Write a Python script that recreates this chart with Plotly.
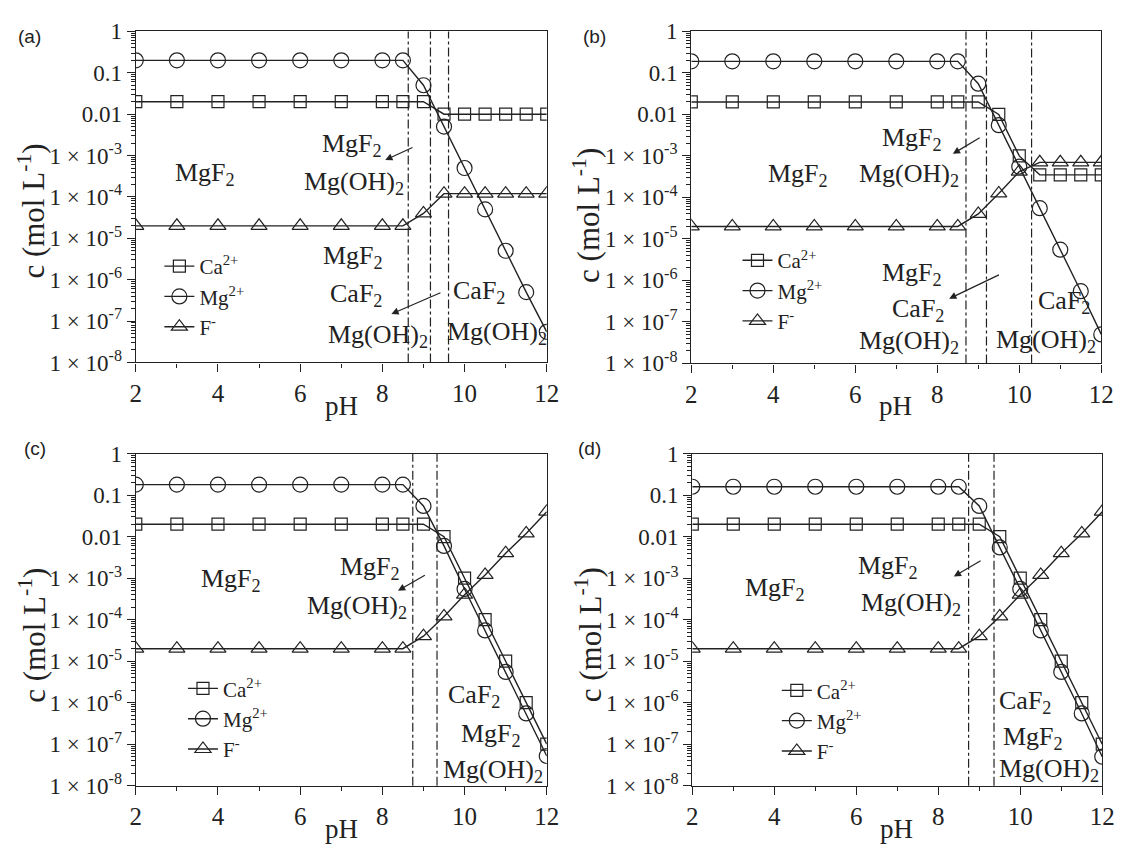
import plotly.graph_objects as go

# pH grid shared by all four panels
ph = [2, 3, 4, 5, 6, 7, 8, 8.5, 9, 9.5, 10, 10.5, 11, 11.5, 12]

# (a)
ca_a = [0.02, 0.02, 0.02, 0.02, 0.02, 0.02, 0.02, 0.02, 0.02, 0.01, 0.01, 0.01, 0.01, 0.01, 0.01]
mg_a = [0.2, 0.2, 0.2, 0.2, 0.2, 0.2, 0.2, 0.2, 0.05, 0.005, 5e-4, 5e-5, 5e-6, 5e-7, 5.5e-8]
f_a = [2e-5, 2e-5, 2e-5, 2e-5, 2e-5, 2e-5, 2e-5, 2e-5, 4e-5, 1.2e-4, 1.2e-4, 1.2e-4, 1.2e-4, 1.2e-4, 1.2e-4]

# (b)
ca_b = [0.02, 0.02, 0.02, 0.02, 0.02, 0.02, 0.02, 0.02, 0.02, 0.01, 1e-3, 3.5e-4, 3.5e-4, 3.5e-4, 3.5e-4]
mg_b = [0.19, 0.19, 0.19, 0.19, 0.19, 0.19, 0.19, 0.19, 0.055, 0.0055, 5.5e-4, 5.5e-5, 5.5e-6, 5.5e-7, 5e-8]
f_b = [2e-5, 2e-5, 2e-5, 2e-5, 2e-5, 2e-5, 2e-5, 2e-5, 4e-5, 1.25e-4, 4.2e-4, 7e-4, 7e-4, 7e-4, 7e-4]

# (c)
ca_c = [0.02, 0.02, 0.02, 0.02, 0.02, 0.02, 0.02, 0.02, 0.02, 0.01, 1e-3, 1e-4, 1e-5, 1e-6, 1e-7]
mg_c = [0.18, 0.18, 0.18, 0.18, 0.18, 0.18, 0.18, 0.18, 0.055, 0.006, 5.5e-4, 5.5e-5, 5.5e-6, 5.5e-7, 5.2e-8]
f_c = [2e-5, 2e-5, 2e-5, 2e-5, 2e-5, 2e-5, 2e-5, 2e-5, 4e-5, 1.2e-4, 4e-4, 1.2e-3, 4e-3, 0.012, 0.04]

# (d)
ca_d = [0.02, 0.02, 0.02, 0.02, 0.02, 0.02, 0.02, 0.02, 0.02, 0.01, 1e-3, 1e-4, 1e-5, 1e-6, 1e-7]
mg_d = [0.16, 0.16, 0.16, 0.16, 0.16, 0.16, 0.16, 0.16, 0.055, 0.0055, 5.5e-4, 5.5e-5, 5.5e-6, 5.5e-7, 5e-8]
f_d = [2e-5, 2e-5, 2e-5, 2e-5, 2e-5, 2e-5, 2e-5, 2e-5, 4e-5, 1.2e-4, 4e-4, 1.2e-3, 4e-3, 0.012, 0.04]

# phase boundaries (pH) for each panel
bounds_a = [8.63, 9.17, 9.61]
bounds_b = [8.70, 9.20, 10.30]
bounds_c = [8.74, 9.33]
bounds_d = [8.74, 9.36]

series_names = ["Ca<sup>2+</sup>", "Mg<sup>2+</sup>", "F<sup>-</sup>"]
series_symbols = ["square-open", "circle-open", "triangle-up-open"]
series_sizes = [12, 15, 14]

y_tickvals = [1, 0.1, 0.01, 1e-3, 1e-4, 1e-5, 1e-6, 1e-7, 1e-8]
y_ticktext = ["1", "0.1", "0.01"] + ["1 \u00d7 10<sup>-%d</sup>" % k for k in range(3, 9)]
x_tickvals = [2, 4, 6, 8, 10, 12]

# region labels: (text, pH, log10 c)
labels_a = [
    ("MgF<sub>2</sub>", 3.68, -3.45),
    ("MgF<sub>2</sub>", 7.27, -2.75),
    ("Mg(OH)<sub>2</sub>", 7.30, -3.66),
    ("MgF<sub>2</sub>", 7.28, -5.45),
    ("CaF<sub>2</sub>", 7.37, -6.38),
    ("Mg(OH)<sub>2</sub>", 7.90, -7.35),
    ("CaF<sub>2</sub>", 10.35, -6.29),
    ("Mg(OH)<sub>2</sub>", 10.79, -7.28),
]
labels_b = [
    ("MgF<sub>2</sub>", 4.61, -3.47),
    ("MgF<sub>2</sub>", 7.39, -2.60),
    ("Mg(OH)<sub>2</sub>", 7.32, -3.45),
    ("MgF<sub>2</sub>", 7.39, -5.85),
    ("CaF<sub>2</sub>", 7.52, -6.71),
    ("Mg(OH)<sub>2</sub>", 7.32, -7.49),
    ("CaF<sub>2</sub>", 11.08, -6.52),
    ("Mg(OH)<sub>2</sub>", 10.65, -7.45),
]
labels_c = [
    ("MgF<sub>2</sub>", 4.31, -3.04),
    ("MgF<sub>2</sub>", 7.70, -2.76),
    ("Mg(OH)<sub>2</sub>", 7.38, -3.69),
    ("CaF<sub>2</sub>", 10.23, -5.85),
    ("MgF<sub>2</sub>", 10.64, -6.79),
    ("Mg(OH)<sub>2</sub>", 10.70, -7.65),
]
labels_d = [
    ("MgF<sub>2</sub>", 4.01, -3.25),
    ("MgF<sub>2</sub>", 6.77, -2.74),
    ("Mg(OH)<sub>2</sub>", 7.34, -3.61),
    ("CaF<sub>2</sub>", 10.12, -5.99),
    ("MgF<sub>2</sub>", 10.31, -6.85),
    ("Mg(OH)<sub>2</sub>", 10.70, -7.62),
]

# pointer arrows: (tail pH, tail log c, head pH, head log c)
arrows_a = [(8.77, -2.79, 8.07, -3.11), (9.45, -6.30, 8.22, -6.83)]
arrows_b = [(9.07, -2.54, 8.38, -2.95), (9.54, -5.85, 8.29, -6.44)]
arrows_c = [(9.07, -2.91, 8.38, -3.30)]
arrows_d = [(9.07, -2.56, 8.38, -2.96)]

W, H = 1130, 855
INK = "#222222"
SERIF = "Liberation Serif, Times New Roman, serif"


def px(x):
    return x / W


def py(y):
    return 1 - y / H


panels = [
    dict(tag="(a)", series=[ca_a, mg_a, f_a], bounds=bounds_a, labels=labels_a, arrows=arrows_a,
         xdom=[132, 550], ydom=[361, 20], tagpos=(24, 25), ytitle=(25, 205), xtitle=(341, 406),
         legend=(156, 241)),
    dict(tag="(b)", series=[ca_b, mg_b, f_b], bounds=bounds_b, labels=labels_b, arrows=arrows_b,
         xdom=[697, 1114], ydom=[362, 20], tagpos=(599, 25), ytitle=(591, 210), xtitle=(905, 406),
         legend=(744, 235)),
    dict(tag="(c)", series=[ca_c, mg_c, f_c], bounds=bounds_c, labels=labels_c, arrows=arrows_c,
         xdom=[132, 550], ydom=[797, 455], tagpos=(30, 450), ytitle=(27, 642), xtitle=(341, 842),
         legend=(180, 676)),
    dict(tag="(d)", series=[ca_d, mg_d, f_d], bounds=bounds_d, labels=labels_d, arrows=arrows_d,
         xdom=[698, 1115], ydom=[797, 455], tagpos=(593, 450), ytitle=(592, 642), xtitle=(906, 842),
         legend=(784, 678)),
]

fig = go.Figure()
layout = dict(
    width=W, height=H,
    margin=dict(l=0, r=0, t=0, b=0),
    paper_bgcolor="white", plot_bgcolor="white",
    showlegend=True,
)
annotations = []
shapes = []

for i, p in enumerate(panels):
    n = "" if i == 0 else str(i + 1)
    xa, ya = "x" + n, "y" + n
    leg = "legend" + n

    for vals, name, sym, size in zip(p["series"], series_names, series_symbols, series_sizes):
        fig.add_trace(go.Scatter(
            x=ph, y=vals, mode="lines+markers", name=name,
            xaxis=xa, yaxis=ya, legend=leg,
            line=dict(color=INK, width=1.4),
            marker=dict(symbol=sym, size=size, color=INK, line=dict(width=1.2, color=INK)),
        ))

    layout["xaxis" + n] = dict(
        domain=[px(p["xdom"][0]), px(p["xdom"][1])], anchor=ya,
        range=[2, 12], tickvals=x_tickvals,
        ticks="outside", ticklen=8, tickwidth=1.2, tickcolor=INK,
        minor=dict(ticks="outside", ticklen=4, tickwidth=1.2, tickcolor=INK, dtick=1, tick0=0),
        showline=True, linewidth=1.4, linecolor=INK, mirror=True,
        showgrid=False, zeroline=False,
        tickfont=dict(family=SERIF, size=25, color=INK),
    )
    layout["yaxis" + n] = dict(
        domain=[py(p["ydom"][0]), py(p["ydom"][1])], anchor=xa,
        type="log", range=[-8, 0],
        tickvals=y_tickvals, ticktext=y_ticktext,
        ticks="outside", ticklen=8, tickwidth=1.2, tickcolor=INK,
        minor=dict(ticks="outside", ticklen=4, tickwidth=1, tickcolor=INK, dtick="D1"),
        showline=True, linewidth=1.4, linecolor=INK, mirror=True,
        showgrid=False, zeroline=False,
        tickfont=dict(family=SERIF, size=23, color=INK),
    )
    layout[leg] = dict(
        x=px(p["legend"][0]), y=py(p["legend"][1]), xanchor="left", yanchor="top",
        bgcolor="rgba(0,0,0,0)", borderwidth=0,
        font=dict(family=SERIF, size=21, color=INK),
        itemwidth=30, tracegroupgap=0,
    )

    for b in p["bounds"]:
        shapes.append(dict(type="line", xref=xa, yref=ya + " domain", x0=b, x1=b, y0=0, y1=1,
                           line=dict(color=INK, width=1.2, dash="dashdot")))

    for text, xv, yv in p["labels"]:
        annotations.append(dict(text=text, x=xv, y=yv, xref=xa, yref=ya, showarrow=False,
                                xanchor="center", yanchor="middle",
                                font=dict(family=SERIF, size=26, color=INK)))

    for tx, ty, hx, hy in p["arrows"]:
        annotations.append(dict(text="", x=hx, y=hy, ax=tx, ay=ty, xref=xa, yref=ya,
                                axref=xa, ayref=ya, showarrow=True, arrowhead=2,
                                arrowsize=1.2, arrowwidth=1.2, arrowcolor=INK))

    annotations.append(dict(text=p["tag"], x=px(p["tagpos"][0]), y=py(p["tagpos"][1]),
                            xref="paper", yref="paper", showarrow=False,
                            xanchor="center", yanchor="middle",
                            font=dict(family="Liberation Sans, Arial, sans-serif", size=19, color=INK)))
    annotations.append(dict(text="c (mol L<sup>-1</sup>)", x=px(p["ytitle"][0]), y=py(p["ytitle"][1]),
                            xref="paper", yref="paper", showarrow=False, textangle=-90,
                            xanchor="center", yanchor="middle",
                            font=dict(family=SERIF, size=31, color=INK)))
    annotations.append(dict(text="pH", x=px(p["xtitle"][0]), y=py(p["xtitle"][1]),
                            xref="paper", yref="paper", showarrow=False,
                            xanchor="center", yanchor="middle",
                            font=dict(family=SERIF, size=27, color=INK)))

layout["annotations"] = annotations
layout["shapes"] = shapes
fig.update_layout(**layout)

fig.write_html("out.html")
